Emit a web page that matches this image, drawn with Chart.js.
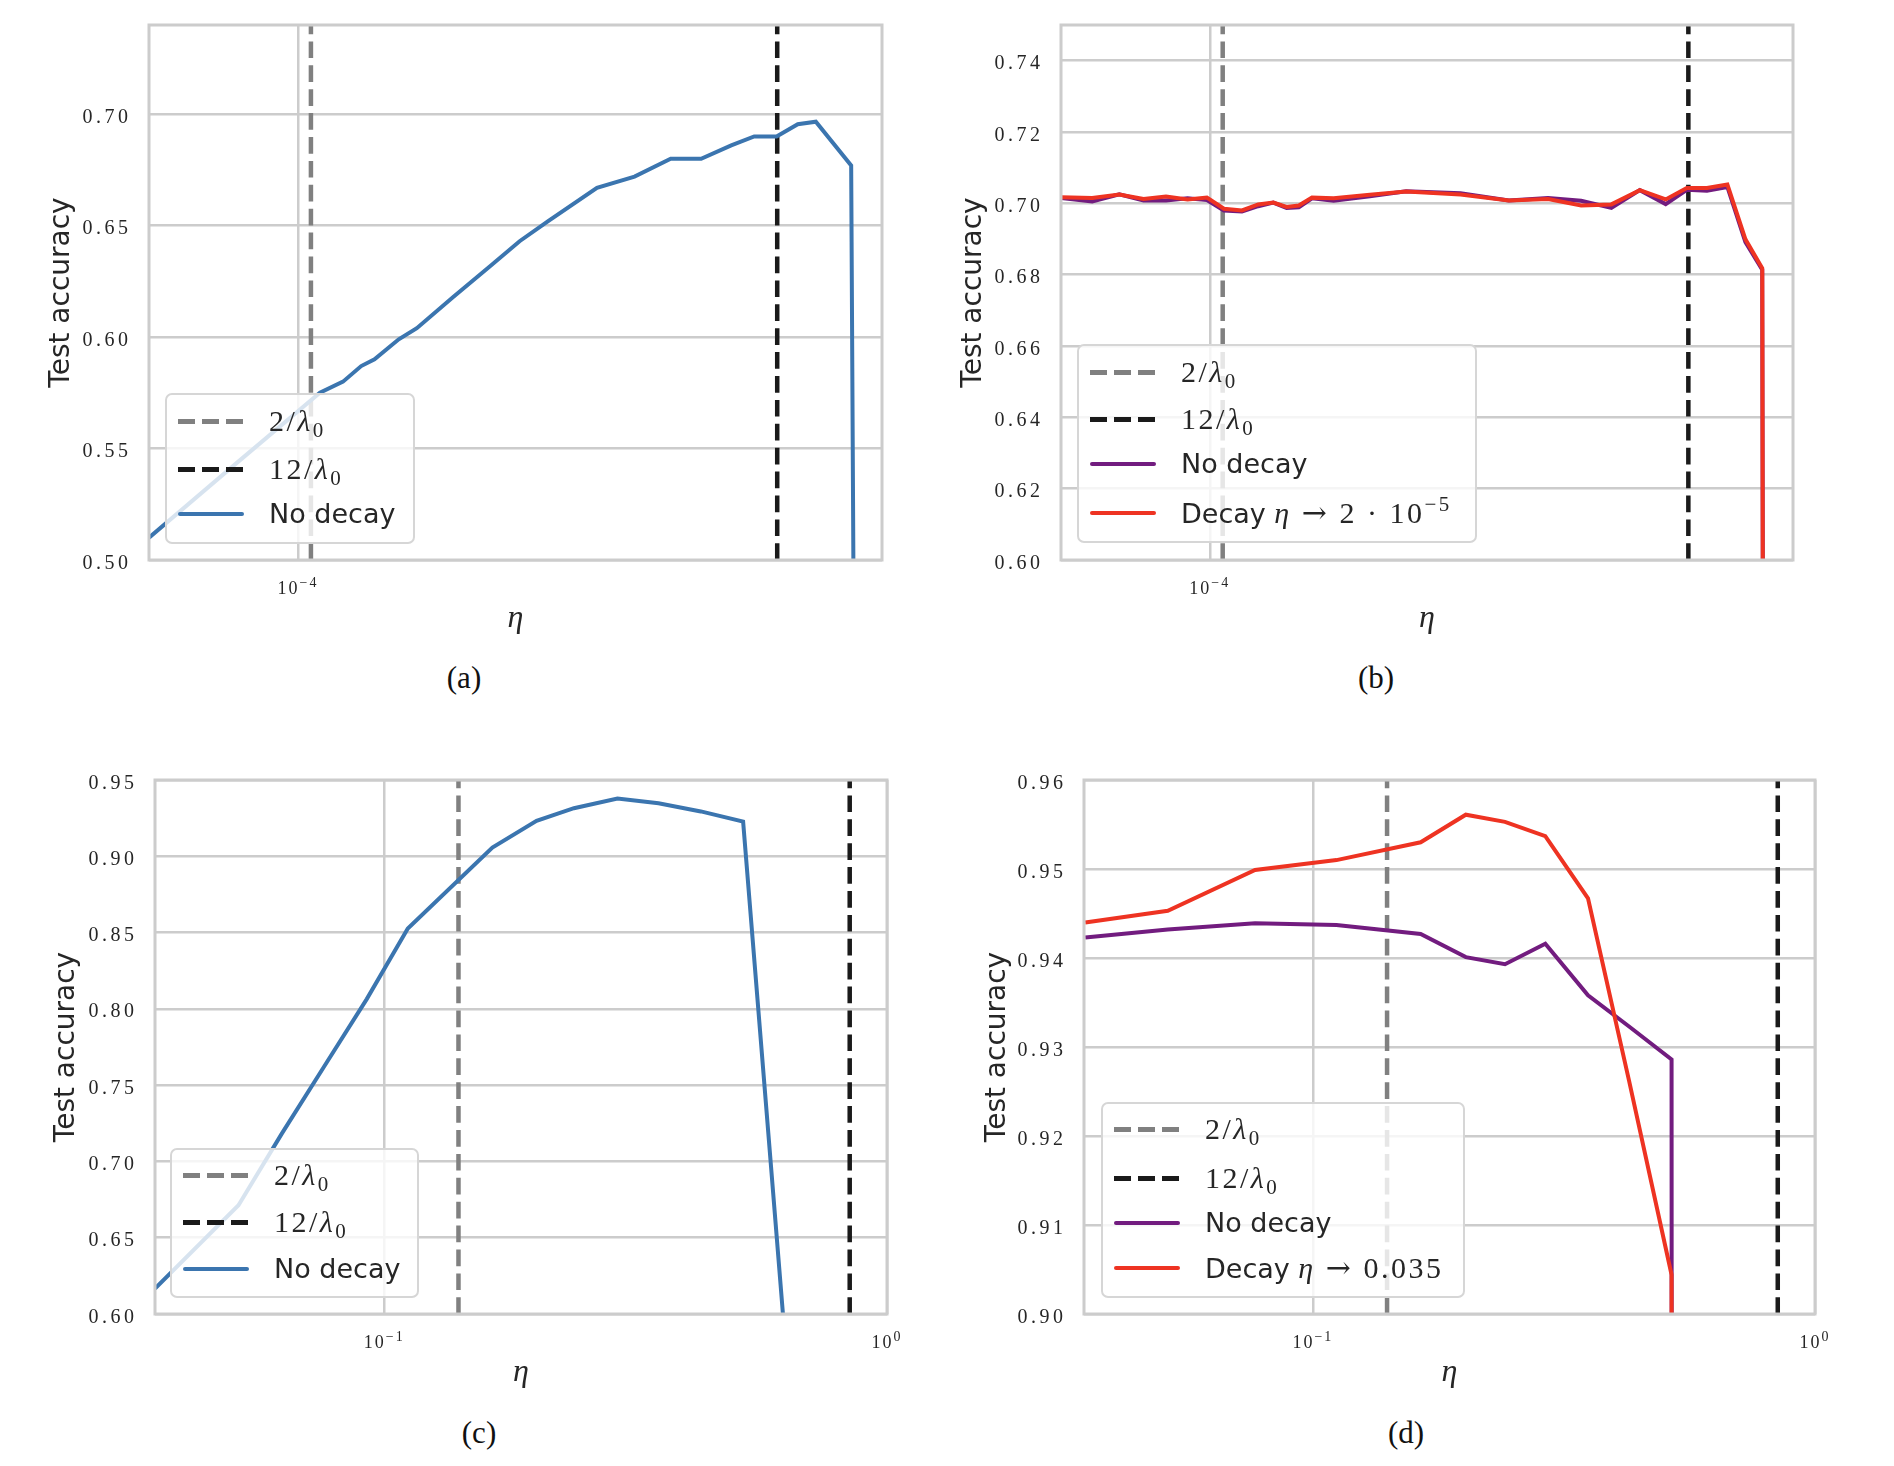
<!DOCTYPE html>
<html>
<head>
<meta charset="utf-8">
<script src="https://cdn.jsdelivr.net/npm/chart.js@4.4.1/dist/chart.umd.min.js"></script>
<style>
  body { margin: 0; width: 1894px; height: 1466px; background: #fff; position: relative; overflow: hidden; }
  canvas { position: absolute; display: block; }
  .legend { position: absolute; box-sizing: border-box; border: 2px solid #d6d6d6; border-radius: 7px; background: rgba(255,255,255,0.8); }
  .row { position: absolute; left: 0; right: 0; height: 40px; }
  .sample { position: absolute; left: 11px; top: 18px; width: 66px; height: 4px; border-radius: 2px; }
  .dash { height: 4.5px; border-radius: 0; }
  .label { position: absolute; left: 102px; top: 0; height: 40px; line-height: 40px; white-space: nowrap; color: #262626; font-family: "DejaVu Sans"; font-size: 27px; }
  .m { font-family: "Liberation Serif"; font-size: 30px; letter-spacing: 2.5px; }
  .m sub, .m sup { font-size: 21px; vertical-align: baseline; position: relative; line-height: 0; }
  .m sub { top: 6px; }
  .m sup { top: -12px; }
  .arr { font-family: "DejaVu Serif"; font-size: 30px; }
  .cap { position: absolute; transform: translate(-50%, -50%); font-family: "Liberation Serif"; font-size: 31px; color: #111; line-height: 1; }
</style>
</head>
<body>
<canvas id="pa" width="947" height="650" style="left:0;top:0"></canvas>
<canvas id="pb" width="947" height="650" style="left:947px;top:0"></canvas>
<canvas id="pc" width="947" height="664" style="left:0;top:740px"></canvas>
<canvas id="pd" width="947" height="664" style="left:947px;top:740px"></canvas>

<!-- legendas -->
<div class="legend" style="left:165px;top:393px;width:250px;height:151px">
  <div class="row" style="top:6px"><div class="sample dash" style="background:repeating-linear-gradient(90deg,#808080 0 16.7px,transparent 16.7px 24px)"></div><div class="label"><span class="m">2/<i>λ</i><sub>0</sub></span></div></div>
  <div class="row" style="top:54px"><div class="sample dash" style="background:repeating-linear-gradient(90deg,#1a1a1a 0 16.7px,transparent 16.7px 24px)"></div><div class="label"><span class="m">12/<i>λ</i><sub>0</sub></span></div></div>
  <div class="row" style="top:99px"><div class="sample" style="background:#3b75af"></div><div class="label">No decay</div></div>
</div>
<div class="legend" style="left:1077px;top:344px;width:400px;height:199px">
  <div class="row" style="top:6px"><div class="sample dash" style="background:repeating-linear-gradient(90deg,#808080 0 16.7px,transparent 16.7px 24px)"></div><div class="label"><span class="m">2/<i>λ</i><sub>0</sub></span></div></div>
  <div class="row" style="top:53px"><div class="sample dash" style="background:repeating-linear-gradient(90deg,#1a1a1a 0 16.7px,transparent 16.7px 24px)"></div><div class="label"><span class="m">12/<i>λ</i><sub>0</sub></span></div></div>
  <div class="row" style="top:98px"><div class="sample" style="background:#721c7f"></div><div class="label">No decay</div></div>
  <div class="row" style="top:147px"><div class="sample" style="background:#ee3322"></div><div class="label">Decay <span class="m"><i>η</i> <span class="arr">→</span> 2 · 10<sup>−5</sup></span></div></div>
</div>
<div class="legend" style="left:170px;top:1148px;width:249px;height:150px">
  <div class="row" style="top:5px"><div class="sample dash" style="background:repeating-linear-gradient(90deg,#808080 0 16.7px,transparent 16.7px 24px)"></div><div class="label"><span class="m">2/<i>λ</i><sub>0</sub></span></div></div>
  <div class="row" style="top:52px"><div class="sample dash" style="background:repeating-linear-gradient(90deg,#1a1a1a 0 16.7px,transparent 16.7px 24px)"></div><div class="label"><span class="m">12/<i>λ</i><sub>0</sub></span></div></div>
  <div class="row" style="top:99px"><div class="sample" style="background:#3b75af"></div><div class="label">No decay</div></div>
</div>
<div class="legend" style="left:1101px;top:1102px;width:364px;height:196px">
  <div class="row" style="top:5px"><div class="sample dash" style="background:repeating-linear-gradient(90deg,#808080 0 16.7px,transparent 16.7px 24px)"></div><div class="label"><span class="m">2/<i>λ</i><sub>0</sub></span></div></div>
  <div class="row" style="top:54px"><div class="sample dash" style="background:repeating-linear-gradient(90deg,#1a1a1a 0 16.7px,transparent 16.7px 24px)"></div><div class="label"><span class="m">12/<i>λ</i><sub>0</sub></span></div></div>
  <div class="row" style="top:99px"><div class="sample" style="background:#721c7f"></div><div class="label">No decay</div></div>
  <div class="row" style="top:144px"><div class="sample" style="background:#ee3322"></div><div class="label">Decay <span class="m"><i>η</i> <span class="arr">→</span> 0.035</span></div></div>
</div>

<div class="cap" style="left:464px;top:677px">(a)</div>
<div class="cap" style="left:1376px;top:677px">(b)</div>
<div class="cap" style="left:479px;top:1432px">(c)</div>
<div class="cap" style="left:1406px;top:1432px">(d)</div>

<script>
// (a) sem decaimento
const etaA = [5.64e-5, 7.86e-5, 1.088e-4, 1.189e-4, 1.275e-4, 1.342e-4, 1.473e-4, 1.579e-4, 1.816e-4, 2.097e-4, 2.344e-4, 2.616e-4, 3.156e-4, 3.646e-4, 4.19e-4, 4.71e-4, 5.288e-4, 5.776e-4, 6.295e-4, 6.829e-4, 7.32e-4, 8.385e-4, 8.62e-4];
const accA_noDecay = [0.510, 0.543, 0.575, 0.580, 0.587, 0.590, 0.599, 0.604, 0.618, 0.632, 0.643, 0.652, 0.667, 0.672, 0.680, 0.680, 0.686, 0.690, 0.690, 0.6955, 0.6966, 0.677, 0.10];

// (b)
const etaB = [5.64e-5, 6.36e-5, 7.06e-5, 7.75e-5, 8.45e-5, 9.18e-5, 9.89e-5, 1.056e-4, 1.132e-4, 1.205e-4, 1.277e-4, 1.344e-4, 1.409e-4, 1.482e-4, 1.611e-4, 1.852e-4, 2.129e-4, 2.625e-4, 3.162e-4, 3.677e-4, 4.177e-4, 4.692e-4, 5.235e-4, 5.783e-4, 6.273e-4, 6.777e-4, 7.333e-4, 7.861e-4, 8.386e-4, 8.51e-4];
const accB_noDecay = [0.7015, 0.7005, 0.7025, 0.7008, 0.7008, 0.7014, 0.7009, 0.6980, 0.6977, 0.6992, 0.7002, 0.6987, 0.6989, 0.7014, 0.7007, 0.7020, 0.7034, 0.7028, 0.7008, 0.7015, 0.7007, 0.6987, 0.7037, 0.6998, 0.7038, 0.7035, 0.7046, 0.6891, 0.6814, 0.10];
const accB_decay = [0.7017, 0.7015, 0.7025, 0.7012, 0.7019, 0.7011, 0.7016, 0.6985, 0.6980, 0.6997, 0.7002, 0.6990, 0.6994, 0.7016, 0.7014, 0.7024, 0.7033, 0.7025, 0.7008, 0.7012, 0.6994, 0.6997, 0.7037, 0.7011, 0.7043, 0.7043, 0.7053, 0.6899, 0.6818, 0.10];

// (c)
const etaC = [0.0350, 0.0513, 0.0626, 0.0760, 0.0923, 0.1114, 0.1641, 0.2009, 0.2384, 0.2910, 0.3512, 0.4263, 0.5174, 0.628];
const accC_noDecay = [0.6167, 0.6713, 0.7184, 0.7624, 0.8064, 0.8526, 0.9057, 0.9233, 0.9315, 0.9379, 0.9348, 0.9294, 0.9227, 0.58];

// (d)
const etaD = [0.0352, 0.0514, 0.0767, 0.1114, 0.1639, 0.2016, 0.2413, 0.2903, 0.3531, 0.4263, 0.518, 0.525];
const accD_noDecay = [0.9423, 0.9432, 0.9439, 0.9437, 0.9427, 0.9401, 0.9393, 0.9416, 0.9358, 0.9323, 0.9286, 0.10];
const accD_decay = [0.9440, 0.9453, 0.9499, 0.9510, 0.9530, 0.9561, 0.9553, 0.9537, 0.9467, 0.9262, 0.9044, 0.10];

// linhas verticais 2/lambda0 e 12/lambda0
const refEtaAB = [1.051e-4, 6.31e-4];
const refEtaCD = [0.1405, 0.843];

// ticks (rotulo do eixo x = "10" + expoente)
const xTicksAB = [1e-4];
const xTickExpAB = ['−4'];
const xTicksCD = [0.1, 1];
const xTickExpCD = ['−1', '0'];
const yTicksA = [0.50, 0.55, 0.60, 0.65, 0.70];
const yTicksB = [0.60, 0.62, 0.64, 0.66, 0.68, 0.70, 0.72, 0.74];
const yTicksC = [0.60, 0.65, 0.70, 0.75, 0.80, 0.85, 0.90, 0.95];
const yTicksD = [0.90, 0.91, 0.92, 0.93, 0.94, 0.95, 0.96];

const GRID = '#cccccc';
const TEXT = '#262626';
const BLUE = '#3b75af';
const PURPLE = '#721c7f';
const RED = '#ee3322';
const GRAY = '#808080';
const BLACK = '#1a1a1a';
const SERIF = '"Liberation Serif"';

// moldura cinza em volta da area do grafico
const moldura = {
    id: 'moldura',
    afterDatasetsDraw(chart) {
        const a = chart.chartArea;
        const ctx = chart.ctx;
        ctx.save();
        ctx.strokeStyle = GRID;
        ctx.lineWidth = 3;
        ctx.strokeRect(a.left, a.top, a.right - a.left, a.bottom - a.top);
        ctx.restore();
    }
};

// rotulos dos ticks no estilo mathtext (expoente em sobrescrito, digitos espacados)
const rotulos = {
    id: 'rotulos',
    afterDraw(chart, args, opts) {
        const ctx = chart.ctx;
        const sx = chart.scales.x;
        const sy = chart.scales.y;
        ctx.save();
        ctx.fillStyle = TEXT;
        ctx.textBaseline = 'alphabetic';

        // eixo y
        ctx.font = '20px ' + SERIF;
        ctx.letterSpacing = '3.5px';
        ctx.textAlign = 'right';
        sy.ticks.forEach(t => {
            const y = sy.getPixelForValue(t.value);
            ctx.fillText(t.value.toFixed(2), sy.right - 21 + 3.5, y + 8.6);
        });

        // eixo x
        ctx.textAlign = 'left';
        ctx.letterSpacing = '2px';
        sx.ticks.forEach((t, i) => {
            const px = sx.getPixelForValue(t.value);
            const exp = opts.exps[i];
            ctx.font = '18px ' + SERIF;
            const wb = ctx.measureText('10').width;
            ctx.font = '14px ' + SERIF;
            const we = ctx.measureText(exp).width;
            const x0 = px - (wb + we) / 2;
            ctx.font = '18px ' + SERIF;
            ctx.fillText('10', x0, sx.top + 34);
            ctx.font = '14px ' + SERIF;
            ctx.fillText(exp, x0 + wb, sx.top + 27);
        });
        ctx.restore();
    }
};

function painel(id, p) {
    const datasets = [];
    // curvas (a primeira fica por cima)
    p.series.forEach((s, i) => {
        datasets.push({
            data: s.x.map((x, k) => ({ x: x, y: s.y[k] })),
            borderColor: s.color,
            borderWidth: 4,
            pointRadius: 0,
            tension: 0,
            clip: 0,
            order: i
        });
    });
    // linhas tracejadas
    [GRAY, BLACK].forEach((c, i) => {
        datasets.push({
            data: [{ x: p.refs[i], y: p.yMin }, { x: p.refs[i], y: p.yMax }],
            borderColor: c,
            borderWidth: 4.5,
            borderDash: [16.7, 7.2],
            pointRadius: 0,
            clip: 0,
            order: 10 + i
        });
    });

    return new Chart(document.getElementById(id), {
        type: 'line',
        data: { datasets: datasets },
        options: {
            responsive: false,
            animation: false,
            events: [],
            layout: { padding: { top: p.padTop, right: p.padRight, left: 0, bottom: 0 } },
            plugins: {
                legend: { display: false },
                tooltip: { enabled: false },
                rotulos: { exps: p.xExps }
            },
            scales: {
                x: {
                    type: 'logarithmic',
                    min: p.xMin,
                    max: p.xMax,
                    grid: { color: GRID, lineWidth: 2.5, drawTicks: false },
                    border: { display: false },
                    ticks: { display: false },
                    afterBuildTicks: s => { s.ticks = p.xTicks.map(v => ({ value: v })); },
                    afterFit: s => { s.height = 90; },
                    title: {
                        display: true,
                        text: 'η',
                        color: TEXT,
                        font: { family: 'Liberation Serif', style: 'italic', size: 32 },
                        padding: { top: 0, bottom: 12 }
                    }
                },
                y: {
                    type: 'linear',
                    min: p.yMin,
                    max: p.yMax,
                    grid: { color: GRID, lineWidth: 2.5, drawTicks: false },
                    border: { display: false },
                    ticks: { display: false },
                    afterBuildTicks: s => { s.ticks = p.yTicks.map(v => ({ value: v })); },
                    afterFit: s => { s.width = p.yWidth; },
                    title: {
                        display: true,
                        text: 'Test accuracy',
                        color: TEXT,
                        font: { family: 'DejaVu Sans', size: 28 },
                        padding: { top: p.titlePad, bottom: 0 }
                    }
                }
            }
        },
        plugins: [moldura, rotulos]
    });
}

painel('pa', {
    xMin: 5.64e-5, xMax: 9.44e-4, yMin: 0.50, yMax: 0.74,
    xTicks: xTicksAB, xExps: xTickExpAB, yTicks: yTicksA, refs: refEtaAB,
    series: [{ x: etaA, y: accA_noDecay, color: BLUE }],
    yWidth: 149, padTop: 25, padRight: 65, titlePad: 45.2
});

painel('pb', {
    xMin: 5.64e-5, xMax: 9.44e-4, yMin: 0.60, yMax: 0.75,
    xTicks: xTicksAB, xExps: xTickExpAB, yTicks: yTicksB, refs: refEtaAB,
    series: [{ x: etaB, y: accB_decay, color: RED }, { x: etaB, y: accB_noDecay, color: PURPLE }],
    yWidth: 114, padTop: 25, padRight: 101, titlePad: 10.2
});

painel('pc', {
    xMin: 0.035, xMax: 1.0, yMin: 0.60, yMax: 0.95,
    xTicks: xTicksCD, xExps: xTickExpCD, yTicks: yTicksC, refs: refEtaCD,
    series: [{ x: etaC, y: accC_noDecay, color: BLUE }],
    yWidth: 155, padTop: 40, padRight: 60, titlePad: 49.7
});

painel('pd', {
    xMin: 0.035, xMax: 1.0, yMin: 0.90, yMax: 0.96,
    xTicks: xTicksCD, xExps: xTickExpCD, yTicks: yTicksD, refs: refEtaCD,
    series: [{ x: etaD, y: accD_decay, color: RED }, { x: etaD, y: accD_noDecay, color: PURPLE }],
    yWidth: 137, padTop: 40, padRight: 79, titlePad: 34.2
});
</script>
</body>
</html>
